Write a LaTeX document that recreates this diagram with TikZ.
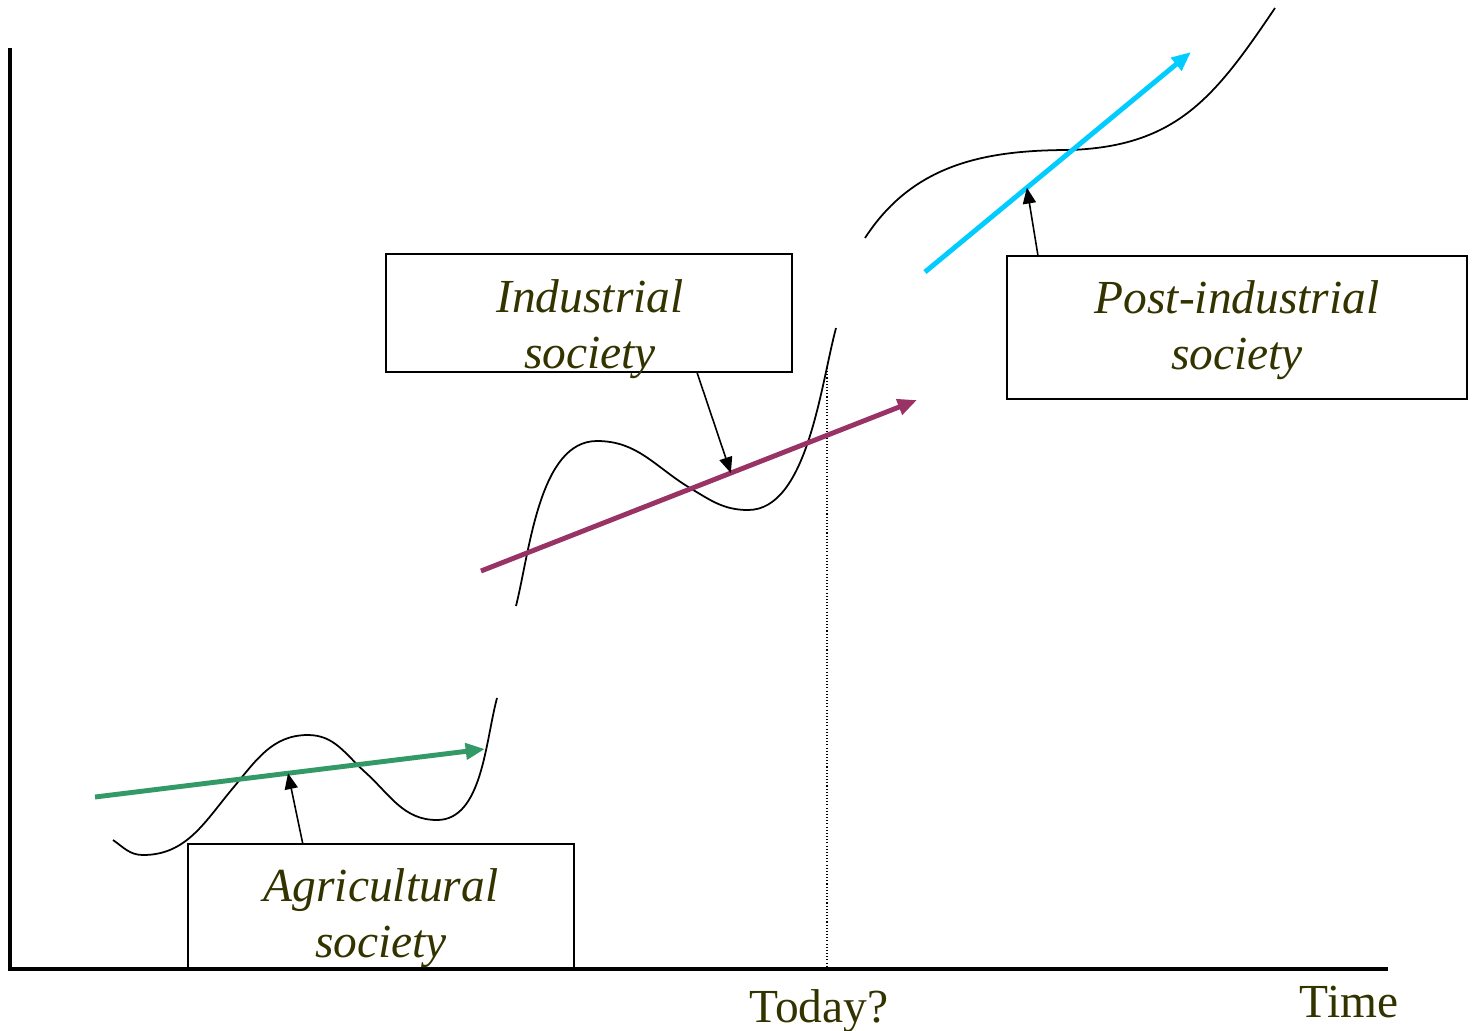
\documentclass[tikz,border=0pt]{standalone}
\usepackage{fontspec}
\setmainfont{Liberation Serif}
\usetikzlibrary{arrows.meta}
\definecolor{soc_text}{HTML}{333300}
\definecolor{agr_green}{HTML}{339966}
\definecolor{ind_purple}{HTML}{993366}
\definecolor{post_cyan}{HTML}{00CCFF}

\begin{document}
\begin{tikzpicture}[x=0.02cm, y=-0.02cm,
  socbox/.style={rectangle, draw, line width=1.1pt, inner sep=0pt},
  soctext/.style={align=center, inner sep=0pt, text=soc_text, font=\fontsize{27}{32}\selectfont\itshape},
  axislabel/.style={anchor=base, inner sep=0pt, text=soc_text, font=\fontsize{27}{32}\selectfont},
  wave/.style={line width=1pt},
  trend/.style={line width=2.8pt, draw=#1, -{Triangle[length=11pt,width=9pt]}},
  pointer/.style={line width=0.9pt, -{Triangle[length=9pt,width=7.5pt]}}]
\useasboundingbox (0,0) rectangle (1474,1031);
\coordinate (ytop) at (10,48);
\coordinate (origin) at (10,969);
\coordinate (xend) at (1388,969);
\draw [line width=2.3pt] (ytop) -- (origin) -- (xend);
\coordinate (todaytop) at (827,368);
\coordinate (todaybot) at (827,969);
\draw [line width=0.6pt, dash pattern=on 0.6pt off 1.2pt] (todaytop) -- (todaybot);
\node (today) [axislabel] at (819,1022) {Today?};
\node (time) [axislabel] at (1349,1017) {Time};
\draw [wave] (113,840) to[out=-35,in=180] (143,855) to[out=0,in=230] (233,788) to[out=50,in=180] (308,735)
  to[out=0,in=138] (365,772) to[out=-42,in=180] (437,820) to[out=0,in=-105,looseness=0.85] (497,698);
\draw [wave] (516,606) to[out=76,in=180,looseness=0.8] (597,441) to[out=0,in=149] (690,488)
  to[out=-31,in=180] (748,510) to[out=0,in=-105,looseness=0.75] (836,328);
\draw [wave] (865,238) to[out=57,in=180] (1070,150) to[out=2,in=236,looseness=1.1] (1275,8);
\draw [trend=agr_green] (95,797) -- coordinate[pos=0.495] (agrhit) (485,749);
\draw [trend=ind_purple] (481,571) -- coordinate[pos=0.573] (indhit) (917,400);
\draw [trend=post_cyan] (925,272) -- coordinate[pos=0.383] (posthit) (1191,52);
\node (indbox) [socbox, minimum width=8.12cm, minimum height=2.36cm] at (589,313) {};
\node (postbox) [socbox, minimum width=9.2cm, minimum height=2.86cm] at (1237,327.5) {};
\node (agrbox) [socbox, minimum width=7.72cm, minimum height=2.5cm] at (381,906.5) {};
\node (indtext) [soctext] at (590,329) {Industrial\\society};
\node (posttext) [soctext] at (1237,330.5) {Post-industrial\\society};
\node (agrtext) [soctext] at (381,918) {Agricultural\\society};
\draw [pointer] (indbox.-29) -- (indhit);
\draw [pointer] (agrbox.141) -- (agrhit);
\draw [pointer] (postbox.160) -- (posthit);
\end{tikzpicture}
\end{document}
